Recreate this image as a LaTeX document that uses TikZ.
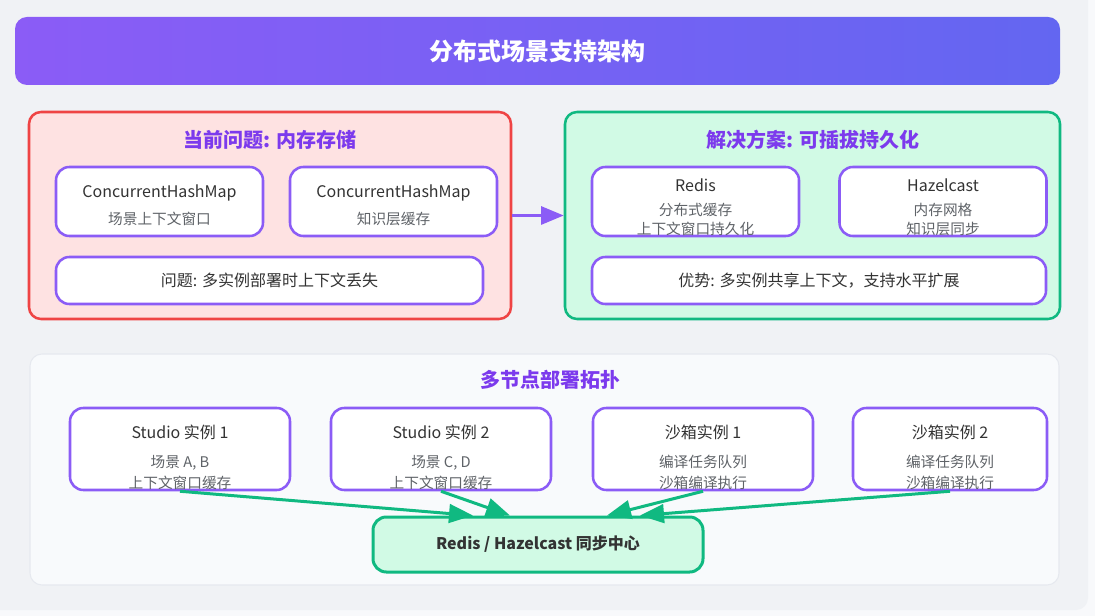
\documentclass[tikz,border=0pt]{standalone}
\usepackage{fontspec}
\setmainfont{Noto Sans CJK SC}
\usepackage{tikz}
\usetikzlibrary{arrows.meta,positioning,calc}
\definecolor{pagebg}{HTML}{F8F9FB}
\definecolor{outerbg}{HTML}{F0F2F5}
\definecolor{cardline}{HTML}{8B5CF6}
\definecolor{headtext}{HTML}{7C3AED}
\definecolor{gradL}{HTML}{8B5CF6}
\definecolor{gradR}{HTML}{6366F1}
\definecolor{redline}{HTML}{EF4444}
\definecolor{redfill}{HTML}{FEE2E2}
\definecolor{greenline}{HTML}{10B981}
\definecolor{greenfill}{HTML}{D1FAE5}
\definecolor{topofill}{HTML}{F8FAFC}
\definecolor{topoline}{HTML}{E6E9EF}
\definecolor{maintext}{HTML}{333333}
\definecolor{subtext}{HTML}{5F6368}
\newcommand{\subline}[1]{{\fontsize{11}{14.25}\selectfont\color{subtext}#1}}
\newcommand{\headfs}{\fontsize{15}{18}\selectfont\bfseries}
\newcommand{\lift}[1]{\rule{0pt}{#1}}

\begin{document}
\begin{tikzpicture}[x=0.75pt,y=-0.75pt,
  font=\fontsize{12}{14.25}\selectfont,
  panel/.style={rounded corners=9pt, line width=1.9pt},
  card/.style={draw=cardline, fill=white, rounded corners=10pt, line width=1.9pt,
    align=center, text=maintext, inner sep=0pt},
  flow/.style={draw=cardline, line width=2.25pt, -{Triangle[length=17pt,width=13.5pt]}},
  sync/.style={draw=greenline, line width=2.25pt, -{Triangle[length=18pt,width=14pt]}}]
\useasboundingbox (0,0) rectangle (1095,616);
\fill[pagebg] (0,0) rectangle (1095,616);
\fill[outerbg, rounded corners=9pt] (-12,-12) rectangle (1088,610);

% title bar
\node[left color=gradL, right color=gradR, rounded corners=9pt,
  minimum width=783.75pt, minimum height=51pt, text=white,
  font=\fontsize{18}{22}\selectfont\bfseries] (title) at (537.5,51) {分布式场景支持架构};

% current problem
\node[panel, draw=redline, fill=redfill, minimum width=361.5pt, minimum height=155.25pt] (curr) at (270,215.5) {};
\node[text=headtext, font=\headfs] (currhead) at (270,140) {当前问题: 内存存储};
\node[card, minimum width=155.25pt, minimum height=51.75pt] (mapctx) at (159.5,201.5)
  {\lift{14.5pt}ConcurrentHashMap\\[6pt]\subline{场景上下文窗口}};
\node[card, minimum width=155.25pt, minimum height=51.75pt] (mapkn) at (393.5,201.5)
  {\lift{14.5pt}ConcurrentHashMap\\[6pt]\subline{知识层缓存}};
\node[card, minimum width=320.25pt, minimum height=35.25pt] (issue) at (269.5,280.5)
  {问题: 多实例部署时上下文丢失};

% solution
\node[panel, draw=greenline, fill=greenfill, minimum width=371.25pt, minimum height=155.25pt] (sol) at (812.5,215.5) {};
\node[text=headtext, font=\headfs] (solhead) at (813,140) {解决方案: 可插拔持久化};
\node[card, minimum width=155.25pt, minimum height=51.75pt] (redis) at (695.5,201.5)
  {\lift{18pt}Redis\\[3.75pt]\subline{分布式缓存}\\\subline{上下文窗口持久化}};
\node[card, minimum width=155.25pt, minimum height=51.75pt] (hazel) at (943,201.5)
  {\lift{18pt}Hazelcast\\[3.75pt]\subline{内存网格}\\\subline{知识层同步}};
\node[card, minimum width=340.5pt, minimum height=35.25pt] (gain) at (819,280.5)
  {优势: 多实例共享上下文，支持水平扩展};

\draw[flow] (curr) -- (sol);

% topology
\node[rounded corners=9pt, draw=topoline, line width=0.8pt, fill=topofill,
  minimum width=771.75pt, minimum height=173.25pt] (topo) at (544.5,469.5) {};
\node[text=headtext, font=\headfs] (topohead) at (550,380) {多节点部署拓扑};
\node[card, minimum width=165pt, minimum height=61.5pt] (studioA) at (180,449)
  {\lift{22.5pt}Studio 实例 1\\[7pt]\subline{场景 A, B}\\[1.5pt]\subline{上下文窗口缓存}};
\node[card, minimum width=165pt, minimum height=61.5pt] (studioB) at (441,449)
  {\lift{22.5pt}Studio 实例 2\\[7pt]\subline{场景 C, D}\\[1.5pt]\subline{上下文窗口缓存}};
\node[card, minimum width=165pt, minimum height=61.5pt] (boxA) at (703,449)
  {\lift{22.5pt}沙箱实例 1\\[7pt]\subline{编译任务队列}\\[1.5pt]\subline{沙箱编译执行}};
\node[card, minimum width=145.5pt, minimum height=61.5pt] (boxB) at (950,449)
  {\lift{22.5pt}沙箱实例 2\\[7pt]\subline{编译任务队列}\\[1.5pt]\subline{沙箱编译执行}};
\node[draw=greenline, fill=greenfill, rounded corners=10pt, line width=2.25pt,
  minimum width=247.5pt, minimum height=41.25pt, text=maintext,
  font=\fontsize{12}{14}\selectfont\bfseries] (hub) at (538,544.5) {Redis / Hazelcast 同步中心};

\draw[sync] (studioA.south) -- ($(hub.north)+(-65,0)$);
\draw[sync] (studioB.south) -- ($(hub.north)+(-28,0)$);
\draw[sync] (boxA.south) -- ($(hub.north)+(69,0)$);
\draw[sync] (boxB.south) -- ($(hub.north)+(102,0)$);
\end{tikzpicture}
\end{document}
